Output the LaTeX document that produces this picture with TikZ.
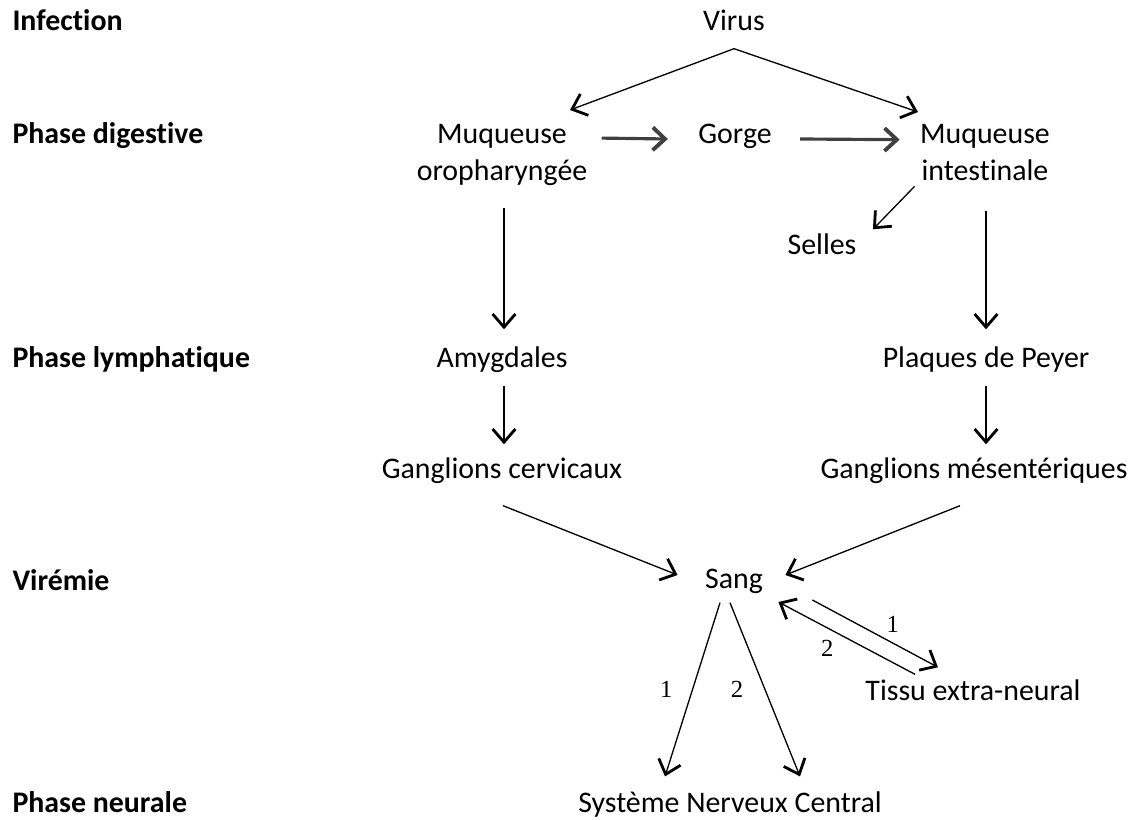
\documentclass[tikz,border=0pt]{standalone}
\usepackage{fontspec}
\setmainfont{Carlito}[Ligatures=NoCommon]
\newfontfamily\numfont{Liberation Serif}
\usetikzlibrary{arrows.meta,calc,positioning}

\begin{document}
\begin{tikzpicture}[x=0.02cm, y=-0.02cm, line width=0.75pt,
                    >={Straight Barb[length=7.5pt,width=13pt,line width=1.6pt]},
                    every node/.style={font=\fontsize{17}{21}\selectfont},
                    box/.style={text height=11pt, text depth=4pt},
                    twoline/.style={align=center, anchor=north},
                    low/.style={inner ysep=1pt},
                    phase/.style={anchor=west, box, font=\fontsize{17}{21}\selectfont\bfseries},
                    num/.style={font=\fontsize{14}{16}\numfont},
                    thick arrow/.style={line width=1.8pt, draw=black!75,
                      -{Straight Barb[length=7pt,width=13pt,line width=2.2pt]}}]
\useasboundingbox (0,0) rectangle (1138,820);

% phases
\node[phase]      (infection)  at (6,24)  {Infection};
\node[phase]      (digestive)  at (6,137) {Phase digestive};
\node[phase]      (lymph)      at (6,361) {Phase lymphatique};
\node[phase]      (viremie)    at (6,584) {Virémie};
\node[phase, low] (neurale)    at (6,806) {Phase neurale};

% stations of the virus
\node[box]      (virus)  at (734,24)  {Virus};
\node[twoline]  (muqoro) at (502,118) {Muqueuse\\oropharyngée};
\node[box]      (gorge)  at (735,137) {Gorge};
\node[twoline]  (muqint) at (985,118) {Muqueuse\\intestinale};
\node[box]      (selles) at (822,248) {Selles};
\node[box]      (amyg)   at (502,361) {Amygdales};
\node[box]      (plaq)   at (986,361) {Plaques de Peyer};
\node[box]      (gcerv)  at (502,472) {Ganglions cervicaux};
\node[box]      (gmes)   at (974,472) {Ganglions mésentériques};
\node[box]      (sang)   at (734,582) {Sang};
\node[box]      (tissu)  at (973,694) {Tissu extra-neural};
\node[box, low] (snc)    at (730,806) {Système Nerveux Central};

% digestive phase
\draw[->] ($(virus.south)+(0,5)$)   -- ($(muqoro.north)+(68,-8)$);
\draw[->] ($(virus.south)+(0,5)$)   -- ($(muqint.north)+(-67,-6)$);
\draw[thick arrow] ($(muqoro.east)+(8,-17)$) -- ($(gorge.west)+(-24,2)$);
\draw[thick arrow] ($(gorge.east)+(22,2)$)   -- ($(muqint.west)+(-14,-13)$);
\draw[->] ($(muqint.south west)+(1,-1)$) -- ($(selles.north east)+(10,1)$);

% lymphatic phase
\draw[->] ($(muqoro.south)+(2,16)$) -- ($(amyg.north)+(2,-12)$);
\draw[->] ($(muqint.south)+(1,24)$) -- ($(plaq.north)+(0,-12)$);
\draw[->] ($(amyg.south)+(2,5)$)    -- ($(gcerv.north)+(2,-8)$);
\draw[->] ($(plaq.south)+(0,5)$)    -- ($(gmes.north)+(12,-8)$);

% viremia
\draw[->] ($(gcerv.south)+(1,14)$)  -- ($(sang.west)+(-21,-7)$);
\draw[->] ($(gmes.south)+(-14,14)$) -- ($(sang.east)+(16,-7)$);
\path[->] ($(sang.east)+(43,18)$)   edge node[num, xshift=10pt, yshift=5pt]  {1} ($(tissu.north)+(-35,-7)$)
          ($(tissu.north)+(-58,0)$) edge node[num, xshift=-11pt, yshift=-6pt] {2} ($(sang.east)+(9,20)$);

% neural phase
\path[->] ($(sang.south)+(-14,1)$)  edge node[num, xshift=-15pt] {1} ($(snc.north)+(-65,-14)$)
          ($(sang.south)+(-4,1)$)   edge node[num, xshift=-16pt] {2} ($(snc.north)+(70,-14)$);

\end{tikzpicture}
\end{document}
